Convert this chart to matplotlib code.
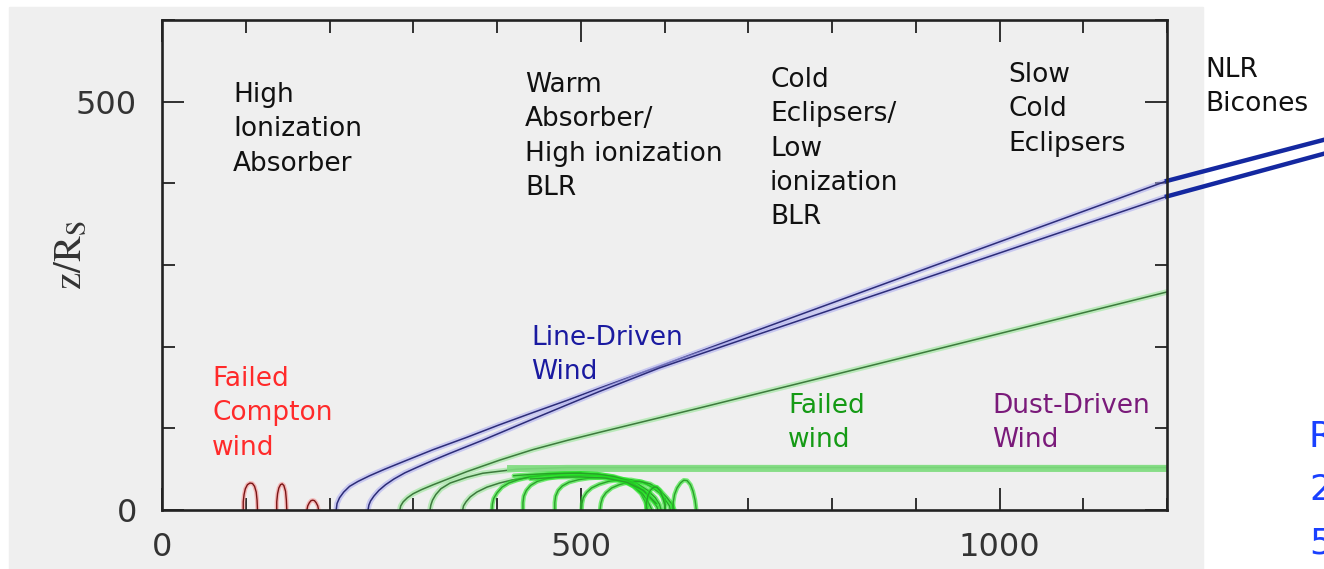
import matplotlib.pyplot as plt
from matplotlib.patches import Rectangle

W, H = 1324, 569

# disk-wind streamlines, x = R/R_S, z = z/R_S
blue_upper_x = [208, 209, 212, 217, 224, 234, 248, 266, 290, 324, 364, 402, 442, 483, 522,
                594, 700, 900, 1200]
blue_upper_z = [0, 8, 15, 22, 29, 35, 42, 50, 60, 74, 89, 104, 119, 134, 149,
                176, 216, 291, 403]
blue_lower_x = [246, 247, 249, 253, 259, 267, 277, 290, 304, 324, 344, 383, 442, 483, 522,
                594, 700, 900, 1200]
blue_lower_z = [0, 6, 11, 17, 24, 31, 38, 45.5, 52, 61, 69.5, 85.5, 111, 128.5, 145,
                174, 211, 280, 384]

green_outer_x = [284, 285, 288, 293, 300, 310, 324, 344, 364, 403, 443, 483, 522, 642, 800,
                 1000, 1200]
green_outer_z = [0, 5, 10, 15, 20, 25, 31, 39, 47, 61, 74, 85, 95, 125, 165, 216, 267]
green_band_x = [320, 321, 323, 327, 333, 344, 364, 383, 424, 483, 800, 1200]
green_band_z = [0, 6, 12, 19, 26, 33, 40, 45, 50, 52, 52, 52]
green_arc_x = [359, 360, 363, 368, 376, 388, 403, 419, 460, 500]
green_arc_z = [0, 5, 10, 16, 22, 28, 33, 37, 43, 46]

# failed-wind loops that fall back onto the disk
loop_x = [
    [394, 394.5, 396, 400, 406, 414, 425, 440, 460, 480, 500, 520, 538, 552, 563, 572, 577, 580],
    [431, 431, 432, 435, 440, 448, 460, 475, 490, 505, 520, 535, 550, 563, 573, 580, 585],
    [469, 469, 470, 473, 478, 486, 497, 510, 525, 540, 555, 568, 580, 589, 594, 596],
    [501, 501.5, 503, 507, 513, 522, 533, 546, 560, 573, 585, 595, 602, 606, 607],
    [523, 524, 526, 530, 537, 546, 557, 570, 583, 594, 603, 609, 612],
    [420, 440, 460, 480, 500, 520, 540, 556, 568, 578, 586, 591, 592],
    [440, 470, 500, 530, 555, 575, 590],
    [578, 578.5, 580, 583, 587, 591, 595, 598, 600, 601],
    [610, 610.5, 612, 615, 619, 623, 627, 631, 634, 636.5, 638],
]
loop_z = [
    [0, 7, 14, 21, 28, 33, 37, 41, 43, 44.5, 45, 44, 41, 36, 29, 20, 10, 0],
    [0, 9, 17, 24, 30, 35, 38.5, 41, 42, 42.5, 42, 40, 35.5, 29, 21, 11, 0],
    [0, 9, 17, 24, 29.5, 34, 37, 39, 40, 39.5, 37, 32, 24, 15, 7, 0],
    [0, 8, 15, 21.5, 27, 31.5, 35, 37, 37, 34.5, 28, 20, 11, 5, 0],
    [0, 8, 15, 21, 27, 31, 34, 35, 32, 25, 15, 7, 0],
    [42, 43.5, 44.5, 45, 45, 44, 41, 36, 29, 20, 11, 4, 0],
    [38, 40, 40.5, 39, 34, 24, 8],
    [0, 9, 17, 24, 28, 28, 23, 15, 7, 0],
    [0, 10, 19, 27, 33, 36.5, 36, 31, 23, 12, 0],
]

# failed Compton-heated wind near the centre
red_x = [
    [97, 97, 98, 99.5, 102, 105, 108, 110.5, 112.5, 113.5, 114],
    [137, 137, 138, 139.5, 141.5, 143.5, 145.5, 147.5, 148.5, 149],
    [173, 174, 176, 178, 180, 182, 184, 186, 187],
]
red_z = [
    [0, 10, 19, 26, 31, 33, 32.5, 29, 22, 12, 0],
    [0, 10, 20, 27, 31, 32, 30, 23, 12, 0],
    [0, 5, 9, 11.5, 12, 11.5, 9, 5, 0],
]

region_labels = [
    ["High", "Ionization", "Absorber"],
    ["Warm", "Absorber/", "High ionization", "BLR"],
    ["Cold", "Eclipsers/", "Low", "ionization", "BLR"],
    ["Slow", "Cold", "Eclipsers"],
    ["NLR", "Bicones"],
]
region_pos = [(233, 95), (525, 85), (770, 80), (1008, 75), (1205, 70)]

wind_labels = [
    (["Failed", "Compton", "wind"], (212, 379), "#ff2a2a"),
    (["Line-Driven", "Wind"], (531, 338), "#1a1aa0"),
    (["Failed", "wind"], (788, 406), "#159a15"),
    (["Dust-Driven", "Wind"], (992, 406), "#7a1a7a"),
]

fig = plt.figure(figsize=(W / 100, H / 100), dpi=100, facecolor="white")
fig.patches.append(Rectangle((9 / W, 0), (1203 - 9) / W, 1 - 7 / H,
                             transform=fig.transFigure, color="#efefef", zorder=-5))

ax = fig.add_axes([162 / W, 1 - 510 / H, (1167 - 162) / W, (510 - 20) / H])
ax.set_zorder(2)
ax.set_facecolor("none")
ax.set_xlim(0, 1200)
ax.set_ylim(0, 600)


def stream(x, z, core, halo, lw=1.1, hw=4.0, ha=0.55):
    ax.plot(x, z, color=halo, lw=hw, alpha=ha, solid_capstyle="round",
            solid_joinstyle="round")
    ax.plot(x, z, color=core, lw=lw, solid_joinstyle="round")


stream(green_outer_x, green_outer_z, "#3c7a3c", "#8fe58f")
stream(green_band_x, green_band_z, "#3c7a3c", "#8fe58f")
ax.plot([415, 1200], [51.5, 51.5], color="#7fdc7f", lw=5, alpha=0.9)
stream(green_arc_x, green_arc_z, "#3c7a3c", "#8fe58f")
for x, z in zip(loop_x, loop_z):
    stream(x, z, "#2aa02a", "#22e622", lw=1.0, hw=3.2, ha=0.6)
for x, z in zip(red_x, red_z):
    stream(x, z, "#7a1515", "#f5a0a0", lw=1.0, hw=3.0, ha=0.7)
stream(blue_upper_x, blue_upper_z, "#2c2c78", "#a8a8f0")
stream(blue_lower_x, blue_lower_z, "#2c2c78", "#a8a8f0")

# bicone extension outside the frame
ax.plot([1200, 1390], [blue_upper_z[-1], 454], color="#1428a0", lw=3.2, clip_on=False)
ax.plot([1200, 1390], [blue_lower_z[-1], 437], color="#1428a0", lw=3.2, clip_on=False)

ax.set_xticks([0, 500, 1000])
ax.set_xticks(range(0, 1201, 100), minor=True)
ax.set_yticks([0, 500])
ax.set_yticks(range(0, 601, 100), minor=True)
ax.tick_params(which="both", direction="in", top=True, right=True, color="#222222",
               labelsize=23, labelcolor="#333333")
ax.tick_params(which="major", length=16, width=1.3)
ax.tick_params(axis="y", which="major", pad=18)
ax.tick_params(axis="x", which="major", pad=16)
ax.tick_params(which="minor", length=9, width=1.3)
for lab in ax.get_xticklabels() + ax.get_yticklabels():
    lab.set_family("DejaVu Sans")
for s in ax.spines.values():
    s.set_linewidth(1.9)
    s.set_color("#222222")

plt.rcParams["mathtext.fontset"] = "stix"
fig.text(70 / W, 1 - 255 / H, r"$\mathrm{z/R_S}$", rotation=90, fontsize=28,
         color="#333333", ha="center", va="center")

font = ["DejaVu Sans"]
dy = 34.3


def block(lines, pos, color, size=19):
    px, py = pos
    for i, line in enumerate(lines):
        fig.text(px / W, 1 - (py + i * dy) / H, line, color=color, fontsize=size,
                 family=font, ha="left", va="center")


for lines, pos in zip(region_labels, region_pos):
    block(lines, pos, "#111111")
for lines, pos, col in wind_labels:
    block(lines, pos, col)

for ch, py in zip(["R", "2", "5"], [437, 490, 543]):
    fig.text(1309 / W, 1 - py / H, ch, color="#1a40ff", fontsize=26, family=font,
             ha="left", va="center")

fig.savefig("out.png", dpi=100, facecolor="white")
